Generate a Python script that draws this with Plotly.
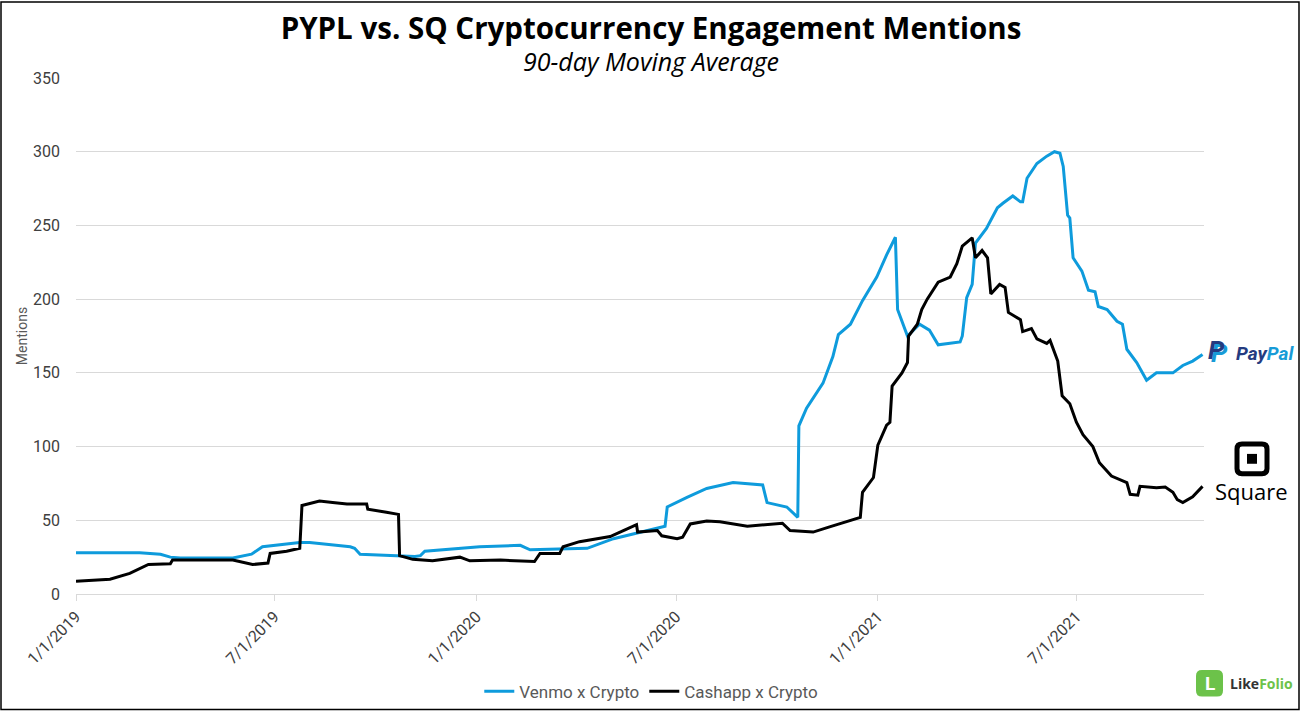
import plotly.graph_objects as go

# ---------------- data ----------------
venmo_dates = [
    "2019-01-01", "2019-02-28", "2019-03-19", "2019-03-28", "2019-04-06", "2019-05-24",
    "2019-06-10", "2019-06-20", "2019-07-24", "2019-08-02", "2019-09-08", "2019-09-12",
    "2019-09-17", "2019-10-23", "2019-11-06", "2019-11-11", "2019-11-15", "2020-01-04",
    "2020-02-10", "2020-02-19", "2020-04-11", "2020-05-05", "2020-05-26", "2020-06-21",
    "2020-06-23", "2020-07-11", "2020-07-29", "2020-08-22", "2020-09-18", "2020-09-22",
    "2020-10-10", "2020-10-20", "2020-10-21", "2020-10-28", "2020-11-12", "2020-11-21",
    "2020-11-26", "2020-12-07", "2020-12-18", "2020-12-31", "2021-01-09", "2021-01-17",
    "2021-01-19", "2021-01-28", "2021-02-08", "2021-02-17", "2021-02-25", "2021-03-17",
    "2021-03-19", "2021-03-23", "2021-03-28", "2021-03-31", "2021-04-10", "2021-04-20",
    "2021-04-25", "2021-05-04", "2021-05-11", "2021-05-13", "2021-05-17", "2021-05-26",
    "2021-06-04", "2021-06-11", "2021-06-16", "2021-06-19", "2021-06-23", "2021-06-25",
    "2021-06-28", "2021-07-06", "2021-07-12", "2021-07-18", "2021-07-21", "2021-07-29",
    "2021-08-07", "2021-08-12", "2021-08-16", "2021-08-25", "2021-09-03", "2021-09-12",
    "2021-09-27", "2021-10-06", "2021-10-15", "2021-10-24",
]
venmo_values = [
    28, 28, 27, 25, 24.5, 24.5,
    27, 32, 35, 35, 32, 31,
    27, 26, 25.5, 26, 29, 32,
    33, 30, 31, 37.5, 41.5, 46,
    59, 65.6, 71.6, 75.6, 74, 62,
    59, 52, 114, 126, 143, 161,
    176, 183, 199, 215, 230, 242,
    193, 175, 183, 179, 169, 171,
    175, 201, 210, 238, 248, 262,
    265, 270, 266, 266, 282, 292,
    297, 300, 299, 290, 257, 255,
    228, 219, 206, 205, 195, 193,
    185, 183, 166, 157, 145, 150,
    150, 155, 158, 162.5,
]

cashapp_dates = [
    "2019-01-01", "2019-02-01", "2019-02-19", "2019-03-08", "2019-03-28", "2019-03-30",
    "2019-05-24", "2019-06-11", "2019-06-25", "2019-06-27", "2019-07-12", "2019-07-24",
    "2019-07-26", "2019-08-11", "2019-08-23", "2019-09-05", "2019-09-23", "2019-09-24",
    "2019-10-11", "2019-10-22", "2019-10-23", "2019-11-04", "2019-11-22", "2019-12-05",
    "2019-12-17", "2019-12-26", "2020-01-23", "2020-02-23", "2020-02-28", "2020-03-17",
    "2020-03-20", "2020-04-04", "2020-05-02", "2020-05-14", "2020-05-26", "2020-05-27",
    "2020-06-14", "2020-06-18", "2020-07-02", "2020-07-07", "2020-07-14", "2020-07-29",
    "2020-08-10", "2020-09-04", "2020-10-04", "2020-10-06", "2020-10-13", "2020-11-03",
    "2020-11-18", "2020-12-04", "2020-12-16", "2020-12-18", "2020-12-28", "2021-01-01",
    "2021-01-09", "2021-01-12", "2021-01-14", "2021-01-23", "2021-01-28", "2021-01-29",
    "2021-02-06", "2021-02-10", "2021-02-15", "2021-02-25", "2021-03-08", "2021-03-14",
    "2021-03-19", "2021-03-28", "2021-03-31", "2021-04-06", "2021-04-11", "2021-04-14",
    "2021-04-22", "2021-04-27", "2021-04-30", "2021-05-11", "2021-05-13", "2021-05-21",
    "2021-05-26", "2021-06-04", "2021-06-07", "2021-06-14", "2021-06-18", "2021-06-25",
    "2021-07-01", "2021-07-07", "2021-07-16", "2021-07-22", "2021-08-02", "2021-08-16",
    "2021-08-19", "2021-08-26", "2021-08-28", "2021-09-12", "2021-09-20", "2021-09-27",
    "2021-10-01", "2021-10-06", "2021-10-15", "2021-10-24",
]
cashapp_values = [
    8.7, 10, 14, 20, 20.5, 23,
    23, 20, 21, 27.5, 29, 31,
    60, 63, 62, 61, 61, 57.5,
    55.5, 54, 26, 23.5, 22.5, 24,
    25, 22.5, 23, 22, 27.5, 27.5,
    32, 35.5, 39, 43, 47, 42,
    43, 39.5, 37.5, 38.5, 47.5, 49.5,
    49, 46, 47.5, 48, 43, 42,
    45.5, 49.5, 52, 69, 79, 101,
    114.5, 116.5, 141, 150, 157, 175,
    183, 193, 200, 211.5, 215, 224,
    236, 241.6, 228, 233, 228, 203.5,
    210, 208, 191, 186, 178, 180,
    173, 170, 172, 158, 134.5, 129,
    116.5, 108, 100, 89, 80, 75.6,
    67.6, 67, 73, 72, 72.5, 69,
    64, 62, 66, 73,
]

tick_dates = ["2019-01-01", "2019-07-01", "2020-01-01", "2020-07-01", "2021-01-01", "2021-07-01"]
tick_labels = ["1/1/2019", "7/1/2019", "1/1/2020", "7/1/2020", "1/1/2021", "7/1/2021"]
y_ticks = [0, 50, 100, 150, 200, 250, 300, 350]

# ---------------- layout helpers ----------------
W, H = 1303, 722
L, R, T, B = 76, 1204, 78, 601


def px(x):
    return (x - L) / (R - L)


def py(y):
    return (B - y) / (B - T)


BLUE = "#0E9BDC"

fig = go.Figure()
fig.add_trace(go.Scatter(x=venmo_dates, y=venmo_values, mode="lines", name="Venmo x Crypto",
                         line=dict(color=BLUE, width=3)))
fig.add_trace(go.Scatter(x=cashapp_dates, y=cashapp_values, mode="lines", name="Cashapp x Crypto",
                         line=dict(color="#000000", width=3)))

shapes = []
# outer frame
shapes.append(dict(type="rect", xref="paper", yref="paper", x0=px(1), x1=px(1299), y0=py(718), y1=py(1),
                   line=dict(color="#000000", width=1.5), fillcolor="rgba(0,0,0,0)", layer="above"))


def rrect(x0, y0, x1, y1, r):
    X0, X1 = px(x0), px(x1)
    Y0, Y1 = py(y0), py(y1)
    rx = r / (R - L)
    ry = r / (B - T)
    return (f"M {X0 + rx},{Y0} L {X1 - rx},{Y0} Q {X1},{Y0} {X1},{Y0 - ry} "
            f"L {X1},{Y1 + ry} Q {X1},{Y1} {X1 - rx},{Y1} L {X0 + rx},{Y1} "
            f"Q {X0},{Y1} {X0},{Y1 + ry} L {X0},{Y0 - ry} Q {X0},{Y0} {X0 + rx},{Y0} Z")


# Square logo: outer rounded square and inner dot
shapes.append(dict(type="path", xref="paper", yref="paper", path=rrect(1237, 449, 1267, 479, 5),
                   line=dict(color="#000000", width=5), fillcolor="rgba(0,0,0,0)"))
shapes.append(dict(type="rect", xref="paper", yref="paper", x0=px(1247), x1=px(1257), y0=py(469), y1=py(459),
                   line=dict(width=0), fillcolor="#000000"))
# LikeFolio icon
shapes.append(dict(type="path", xref="paper", yref="paper", path=rrect(1196, 678, 1223, 705, 6),
                   line=dict(width=0), fillcolor="#6CC24A"))


def ann(text, x, y, size, color="#000000", family="Open Sans"):
    return dict(text=text, x=px(x), y=py(y), xref="paper", yref="paper", showarrow=False,
                xanchor="center", yanchor="middle", font=dict(family=family, size=size, color=color))


annotations = [
    ann("<b><i>P</i></b>", 1219, 357, 26, "#179BD7", "Roboto"),
    ann("<b><i>P</i></b>", 1216, 354, 26, "#253B80", "Roboto"),
    ann("<b><i><span style='color:#253B80'>Pay</span><span style='color:#179BD7'>Pal</span></i></b>",
        1265, 357, 19, "#253B80", "Roboto"),
    ann("Square", 1251, 497, 22),
    ann("<b>L</b>", 1209.5, 692, 19, "#FFFFFF", "Roboto"),
    ann("<b><span style='color:#333333'>Like</span><span style='color:#6CC24A'>Folio</span></b>",
        1261, 692, 14, "#333333"),
    ann("<i>90-day Moving Average</i>", 651, 61, 25),
]

fig.update_layout(
    width=W, height=H,
    margin=dict(l=L, r=W - R, t=T, b=H - B),
    paper_bgcolor="#FFFFFF", plot_bgcolor="#FFFFFF",
    title=dict(text="<b>PYPL vs. SQ Cryptocurrency Engagement Mentions</b>", x=px(651), xref="paper",
               xanchor="center", y=1 - 29 / H, yanchor="middle",
               font=dict(family="Open Sans", size=29.5, color="#000000")),
    showlegend=True,
    legend=dict(orientation="h", x=0.51, y=py(700), xanchor="center", yanchor="middle",
                font=dict(family="Roboto", size=17, color="#595959"), itemwidth=30,
                bgcolor="rgba(0,0,0,0)"),
    shapes=shapes,
    annotations=annotations,
    xaxis=dict(type="date", range=["2019-01-01", "2021-10-25 08:00"], tickvals=tick_dates,
               ticktext=tick_labels, tickangle=-45, ticks="outside", ticklen=6, tickcolor="#D9D9D9",
               showline=True, linecolor="#D9D9D9", linewidth=1, showgrid=False, zeroline=False,
               tickfont=dict(family="Roboto", size=16, color="#404040")),
    yaxis=dict(range=[0, 350], tickvals=y_ticks, showgrid=True, gridcolor="#D9D9D9", gridwidth=1,
               zeroline=False, showline=False, ticks="", ticklabelstandoff=15,
               tickfont=dict(family="Roboto", size=16, color="#404040"),
               title=dict(text="Mentions", standoff=2, font=dict(family="Roboto", size=14, color="#595959"))),
)

fig.write_html(
    "out.html",
    config={"displayModeBar": False},
    post_script=("document.documentElement.style.margin='0';document.documentElement.style.overflow='hidden';"
                 "document.documentElement.style.height='722px';"
                 "document.body.style.margin='0';document.body.style.overflow='hidden';"
                 "document.body.style.height='722px';"),
)
